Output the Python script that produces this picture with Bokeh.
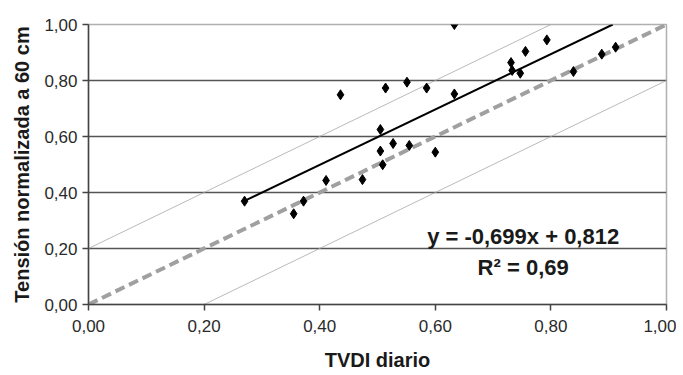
from bokeh.plotting import figure
from bokeh.models import FixedTicker, CustomJSTickFormatter, Range1d, Label
from bokeh.embed import file_html
from bokeh.resources import INLINE

# Data
tvdi = [0.270, 0.355, 0.372, 0.411, 0.436, 0.474, 0.505, 0.505, 0.509, 0.514,
        0.527, 0.551, 0.555, 0.585, 0.600, 0.633, 0.633, 0.731, 0.733, 0.747,
        0.756, 0.793, 0.839, 0.888, 0.912]
tension = [0.369, 0.324, 0.369, 0.443, 0.749, 0.446, 0.625, 0.548, 0.499, 0.773,
           0.575, 0.794, 0.568, 0.773, 0.544, 1.000, 0.752, 0.864, 0.836, 0.826,
           0.904, 0.945, 0.832, 0.894, 0.919]
fit_x = [0.270, 0.907]
fit_y = [0.370, 1.000]
one_x = [0.0, 1.0]
one_y = [0.0, 1.0]
upper_x = [0.0, 0.8]
upper_y = [0.2, 1.0]
lower_x = [0.2, 1.0]
lower_y = [0.0, 0.8]
ticks = [0.0, 0.2, 0.4, 0.6, 0.8, 1.0]
eq_text = "y = -0,699x + 0,812"
r2_text = "R\u00b2 = 0,69"

FONT = "Liberation Sans"

p = figure(width=676, height=373, output_backend="svg", toolbar_location=None,
           x_range=Range1d(0, 1), y_range=Range1d(0, 1),
           min_border_left=88, min_border_right=10, min_border_top=24, min_border_bottom=66)
p.outline_line_color = "#b0b0b0"
p.outline_line_width = 1.5
p.background_fill_color = "white"
p.border_fill_color = "white"

fmt = CustomJSTickFormatter(code="return tick.toFixed(2).replace('.', ',');")
for ax in (p.xaxis, p.yaxis):
    ax.ticker = FixedTicker(ticks=ticks)
    ax.formatter = fmt
    ax.axis_line_color = "#444444"
    ax.axis_line_width = 1.5
    ax.major_tick_line_color = "#444444"
    ax.major_tick_line_width = 1.5
    ax.major_tick_in = 0
    ax.major_tick_out = 6
    ax.minor_tick_line_color = None
    ax.major_label_text_font = FONT
    ax.major_label_text_font_size = "17px"
    ax.major_label_text_color = "#2a2a2a"
    ax.axis_label_text_font = FONT
    ax.axis_label_text_font_size = "20px"
    ax.axis_label_text_font_style = "bold"
    ax.axis_label_text_color = "#1a1a1a"

p.xaxis.axis_label = "TVDI diario"
p.yaxis.axis_label = "Tensión normalizada a 60 cm"
p.xaxis.major_label_standoff = 9
p.xaxis.axis_label_standoff = 14
p.yaxis.major_label_standoff = 5
p.yaxis.axis_label_standoff = 8

p.xgrid.grid_line_color = None
p.ygrid.ticker = FixedTicker(ticks=ticks[1:-1])
p.ygrid.grid_line_color = "#555555"
p.ygrid.grid_line_width = 1.5

p.line(upper_x, upper_y, line_color="#a8a8a8", line_width=0.8)
p.line(lower_x, lower_y, line_color="#a8a8a8", line_width=0.8)
p.line(one_x, one_y, line_color="#a0a0a0", line_width=4, line_dash="10 5")
p.line(fit_x, fit_y, line_color="black", line_width=2)
p.scatter(tvdi, tension, marker="diamond", size=10, color="black")

p.add_layout(Label(x=0.752, y=0.243, text=eq_text, text_align="center", text_baseline="middle",
                   text_font=FONT, text_font_size="22px", text_font_style="bold", text_color="#1a1a1a"))
p.add_layout(Label(x=0.752, y=0.132, text=r2_text, text_align="center", text_baseline="middle",
                   text_font=FONT, text_font_size="22px", text_font_style="bold", text_color="#1a1a1a"))

open("out.html", "w").write(file_html(p, INLINE))
